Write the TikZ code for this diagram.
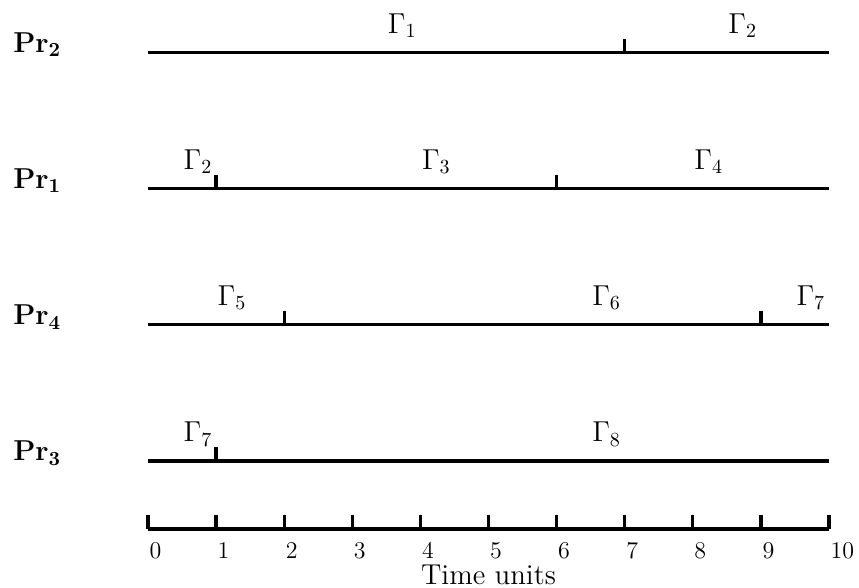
\documentclass[tikz,border=0pt]{standalone}
\usepackage{amsmath}

\tikzset{
  prlabel/.style={anchor=base west, inner sep=0pt, font=\Large},
  glabel/.style={anchor=base west, inner sep=0pt, font=\Large},
  numlabel/.style={anchor=north west, inner sep=0pt, font=\large}
}

\begin{document}
\begin{tikzpicture}[x=1.197cm, y=1.197cm, line width=1.6pt]
  \useasboundingbox (-2.173,-0.852) rectangle (10.44,7.768);
  % processors
  \node[prlabel] (pr2) at (-2,7) {$\mathbf{Pr_{2}}$};
  \node[prlabel] (pr1) at (-2,5) {$\mathbf{Pr_{1}}$};
  \node[prlabel] (pr4) at (-2,3) {$\mathbf{Pr_{4}}$};
  \node[prlabel] (pr3) at (-2,1) {$\mathbf{Pr_{3}}$};
  % time lines
  \foreach \y in {7,5,3,1}
    \draw (0,\y) -- (10,\y);
  \draw (7,7) -- (7,7.2);
  \draw (1,5) -- (1,5.2);
  \draw (6,5) -- (6,5.2);
  \draw (2,3) -- (2,3.2);
  \draw (9,3) -- (9,3.2);
  \draw (1,1) -- (1,1.2);
  % tasks
  \node[glabel] (g1)  at (3.5,7.28) {$\Gamma_1$};
  \node[glabel] (g2a) at (8.5,7.28) {$\Gamma_2$};
  \node[glabel] (g2b) at (0.5,5.28) {$\Gamma_2$};
  \node[glabel] (g3)  at (4.0,5.28) {$\Gamma_3$};
  \node[glabel] (g4)  at (8.0,5.28) {$\Gamma_4$};
  \node[glabel] (g5)  at (1.0,3.28) {$\Gamma_5$};
  \node[glabel] (g6)  at (6.5,3.28) {$\Gamma_6$};
  \node[glabel] (g7a) at (9.5,3.28) {$\Gamma_7$};
  \node[glabel] (g7b) at (0.5,1.28) {$\Gamma_7$};
  \node[glabel] (g8)  at (6.5,1.28) {$\Gamma_8$};
  % time axis
  \draw (0,0) -- (10,0);
  \foreach \t in {0,...,10} {
    \draw (\t,0) -- (\t,0.2);
    \node[numlabel] (t\t) at (\t,-0.17) {\t};
  }
  \node[anchor=base, inner sep=0pt, font=\Large] (units) at (5,-0.81) {Time units};
\end{tikzpicture}
\end{document}
